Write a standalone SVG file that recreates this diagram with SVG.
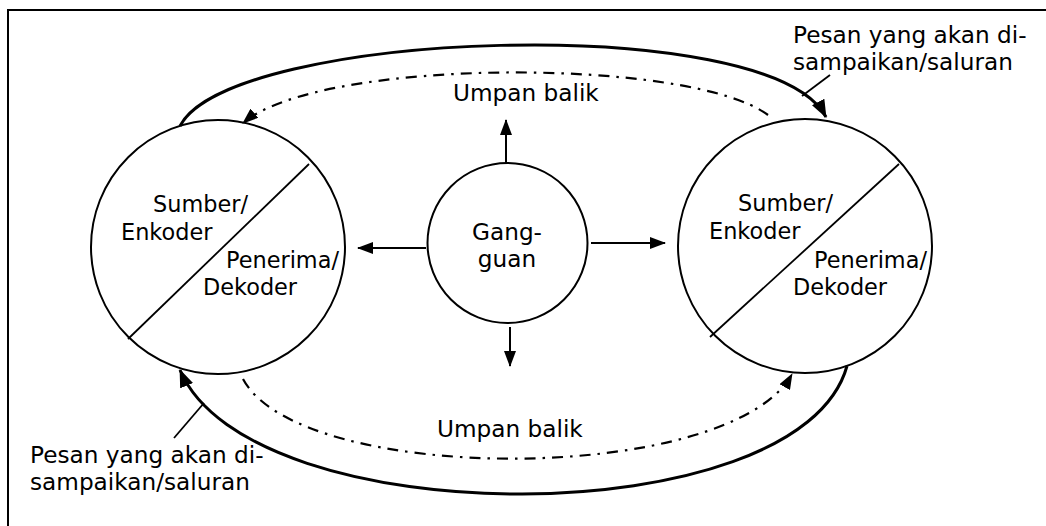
<svg xmlns="http://www.w3.org/2000/svg" width="1046" height="526" viewBox="0 0 1046 526">
<style>
text{font-family:"DejaVu Sans",Verdana,sans-serif;font-size:22.4px;fill:#000}
.lbl{font-size:23.2px}
.c{text-anchor:middle}
.node{fill:none;stroke:#000;stroke-width:2}
.div{stroke:#000;stroke-width:1.8}
.solid{fill:none;stroke:#000;stroke-width:3}
.dash{fill:none;stroke:#000;stroke-width:2.2;stroke-dasharray:11 7 2.5 7}
.arr{stroke:#000;stroke-width:2}
.lead{stroke:#000;stroke-width:1.8}
.frame{stroke:#000;stroke-width:2;fill:none}
</style>
<defs>
<marker id="big" markerUnits="userSpaceOnUse" markerWidth="18" markerHeight="14" refX="17" refY="7" orient="auto">
<path d="M0,0 L18,7 L0,14 z" fill="#000"/>
</marker>
<marker id="small" markerUnits="userSpaceOnUse" markerWidth="16" markerHeight="12" refX="15" refY="6" orient="auto">
<path d="M0,0 L16,6 L0,12 z" fill="#000"/>
</marker>
</defs>
<path class="frame" d="M8,526 L8,10 L1046,10"/>
<g id="left-node">
<circle class="node" cx="218" cy="247" r="127"/>
<line class="div" x1="128" y1="339" x2="309" y2="164"/>
<text x="153" y="212">Sumber/</text>
<text x="121" y="240">Enkoder</text>
<text x="226" y="268">Penerima/</text>
<text x="203" y="295">Dekoder</text>
</g>
<g id="right-node">
<circle class="node" cx="805" cy="246" r="127"/>
<line class="div" x1="710" y1="337" x2="899" y2="164"/>
<text x="738" y="211">Sumber/</text>
<text x="709" y="239">Enkoder</text>
<text x="814" y="268">Penerima/</text>
<text x="793" y="295">Dekoder</text>
</g>
<g id="gangguan">
<circle class="node" cx="507.5" cy="243" r="80"/>
<text class="c lbl" x="507" y="240">Gang-</text>
<text class="c lbl" x="507" y="267">guan</text>
</g>
<g id="labels">
<text class="lbl" x="453" y="101">Umpan balik</text>
<text class="lbl" x="437" y="437">Umpan balik</text>
<text class="lbl" x="793" y="43">Pesan yang akan di-</text>
<text class="lbl" x="793" y="70">sampaikan/saluran</text>
<text class="lbl" x="30" y="463">Pesan yang akan di-</text>
<text class="lbl" x="30" y="490">sampaikan/saluran</text>
</g>
<g id="connectors">
<path class="solid" d="M180,126 C230,30 770,10 826,117" marker-end="url(#big)"/>
<path class="solid" d="M847,366 C800,536 250,536 180,370" marker-end="url(#big)"/>
<path class="dash" d="M768,115 C690,57 320,57 243,123" marker-end="url(#small)"/>
<path class="dash" d="M243,379 C300,486 730,486 792,374" marker-end="url(#small)"/>
<line class="arr" x1="506" y1="163" x2="506" y2="120" marker-end="url(#small)"/>
<line class="arr" x1="426" y1="248" x2="358" y2="248" marker-end="url(#small)"/>
<line class="arr" x1="591" y1="243" x2="665" y2="243" marker-end="url(#small)"/>
<line class="arr" x1="510" y1="327" x2="510" y2="366" marker-end="url(#small)"/>
<line class="lead" x1="830" y1="75" x2="802" y2="96"/>
<line class="lead" x1="204" y1="403" x2="174" y2="438"/>
</g>
</svg>
